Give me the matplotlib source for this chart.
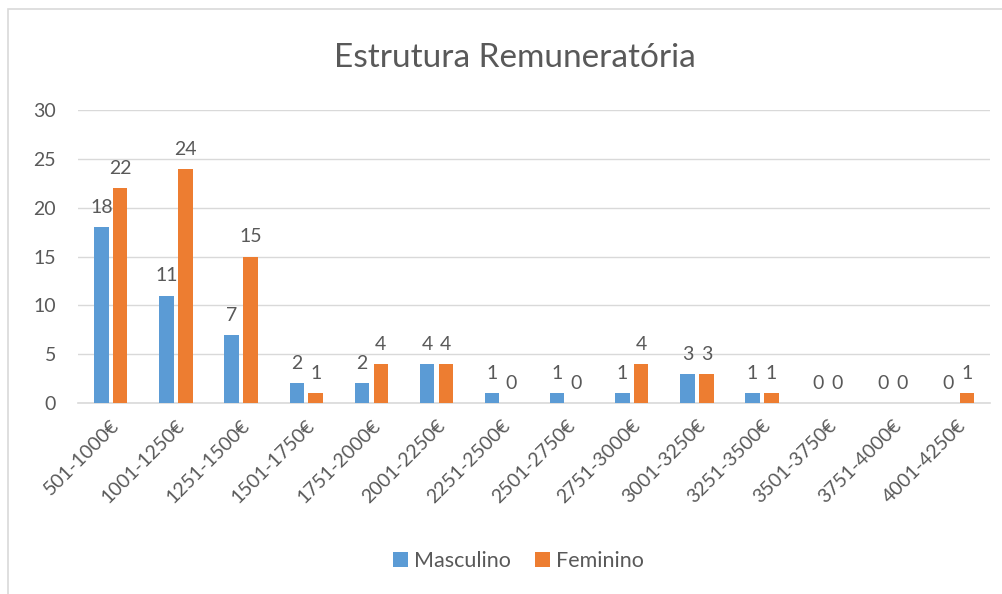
import matplotlib
matplotlib.use("Agg")
import matplotlib.pyplot as plt
import numpy as np
from matplotlib.patches import Rectangle

categories = ["501-1000€", "1001-1250€", "1251-1500€", "1501-1750€", "1751-2000€",
              "2001-2250€", "2251-2500€", "2501-2750€", "2751-3000€", "3001-3250€",
              "3251-3500€", "3501-3750€", "3751-4000€", "4001-4250€"]
masculino = [18, 11, 7, 2, 2, 4, 1, 1, 1, 3, 1, 0, 0, 0]
feminino = [22, 24, 15, 1, 4, 4, 0, 0, 4, 3, 1, 0, 0, 1]
yticks = [0, 5, 10, 15, 20, 25, 30]

plt.rcParams['font.family'] = ['Lato', 'DejaVu Sans']
TXT = '#595959'
BLUE = '#5B9BD5'
ORANGE = '#ED7D31'

fig = plt.figure(figsize=(10.03, 5.94), dpi=100)
fig.patches.append(Rectangle((0.008, -0.05), 1.1, 1.035, transform=fig.transFigure,
                             fill=False, edgecolor='#D9D9D9', linewidth=1.2))
ax = fig.add_axes([0.078, 0.3215, 0.909, 0.4933])

x = np.arange(len(categories))
w = 0.22
off = 0.145
b1 = ax.bar(x - off, masculino, w, color=BLUE, zorder=3, label='Masculino')
b2 = ax.bar(x + off, feminino, w, color=ORANGE, zorder=3, label='Feminino')
for bars, vals in ((b1, masculino), (b2, feminino)):
    for r, v in zip(bars, vals):
        ax.annotate(str(v), (r.get_x() + r.get_width() / 2, v), xytext=(0, 8),
                    textcoords='offset points', ha='center', va='bottom',
                    fontsize=14, color=TXT)

ax.set_xlim(-0.5, len(categories) - 0.5)
ax.set_ylim(0, 30)
ax.set_yticks(yticks)
ax.set_yticklabels([str(t) for t in yticks], fontsize=14, color=TXT)
ax.set_xticks(x)
ax.set_xticklabels(categories, rotation=45, ha='right', rotation_mode='anchor',
                   fontsize=14, color=TXT)
ax.tick_params(axis='y', length=0, pad=16)
ax.tick_params(axis='x', length=0, pad=10)
ax.grid(axis='y', color='#D9D9D9', linewidth=1, zorder=0)
for s in ['top', 'right', 'left']:
    ax.spines[s].set_visible(False)
ax.spines['bottom'].set_color('#D9D9D9')
ax.spines['bottom'].set_linewidth(1.2)

fig.text(0.513, 0.903, 'Estrutura Remuneratória', ha='center', va='center',
         fontsize=24, color=TXT)
fig.legend(handles=[b1, b2], labels=['Masculino', 'Feminino'], loc='center',
           bbox_to_anchor=(0.517, 0.055), ncol=2, frameon=False, fontsize=15.5,
           labelcolor=TXT, handlelength=0.7, handleheight=0.7, columnspacing=1.1,
           handletextpad=0.3)

fig.savefig('out.png', dpi=100)
